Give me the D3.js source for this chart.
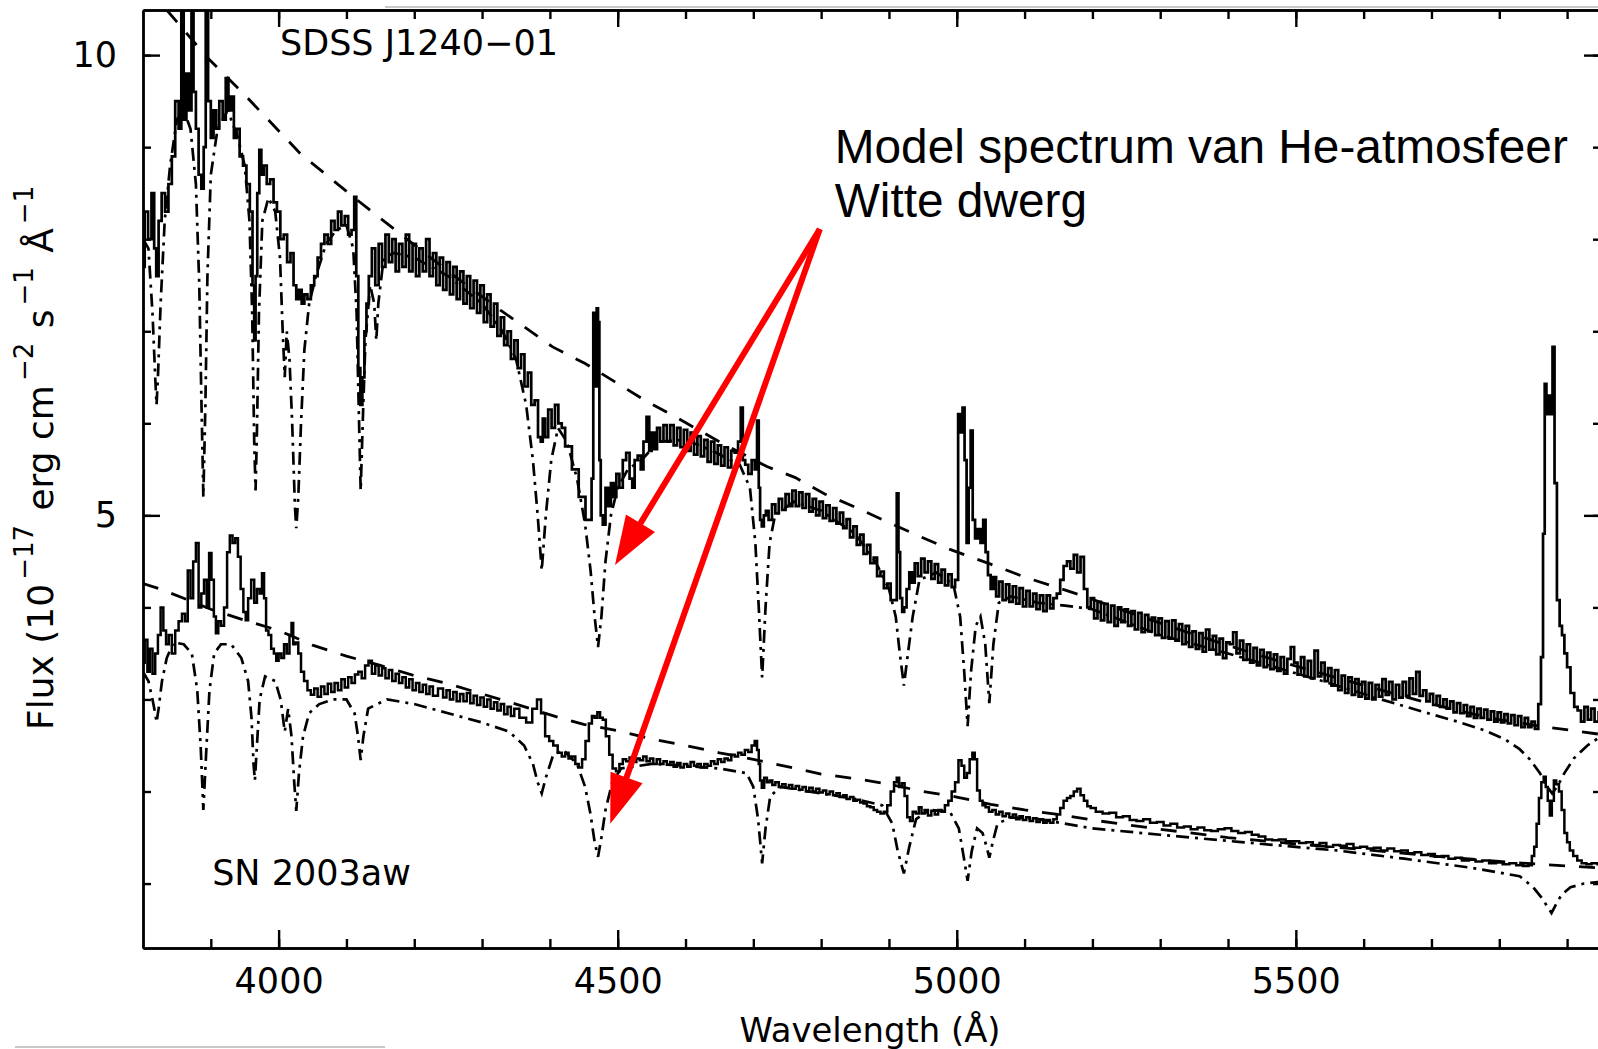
<!DOCTYPE html>
<html><head><meta charset="utf-8">
<script src="https://cdn.jsdelivr.net/npm/d3@7"></script>
<style>
html,body{margin:0;padding:0;background:#fff;overflow:hidden;}
svg{display:block;}
</style></head><body>
<svg id="chart" width="1598" height="1049"></svg>
<script>
// ---------------- data ----------------
const xDomain = [3800, 5950];
const yDomain = [0.3, 10.49];
const xMajorTicks = [4000, 4500, 5000, 5500];
const xMinorTicks = [3900, 4000, 4100, 4200, 4300, 4400, 4500, 4600, 4700, 4800, 4900, 5000, 5100, 5200, 5300, 5400, 5500, 5600, 5700, 5800, 5900];
const yMajorTicks = [5, 10];
const yMinorTicks = [1, 2, 3, 4, 5, 6, 7, 8, 9, 10];

// SDSS J1240-01 observed spectrum (solid)
const topObserved = [
[3800,7.7],[3805,8.3],[3810,8.0],[3815,8.5],[3818,7.9],[3821,7.6],[3825,8.2],[3830,8.5],[3835,8.3],[3840,8.6],[3845,8.9],[3850,9.5],[3855,9.2],[3858,10.8],[3862,9.3],[3866,9.8],[3870,9.4],[3873,10.9],[3876,9.6],[3880,9.2],[3884,8.7],[3888,8.55],[3891,9.0],[3894,10.8],[3898,9.5],[3902,9.1],[3906,9.4],[3910,9.2],[3915,9.5],[3920,9.3],[3924,9.75],[3928,9.4],[3932,9.55],[3936,9.1],[3940,9.2],[3945,8.9],[3950,8.8],[3955,8.6],[3960,8.3],[3963,7.5],[3965,6.9],[3967,7.6],[3970,8.5],[3973,8.97],[3976,8.7],[3980,8.8],[3985,8.6],[3990,8.65],[3995,8.4],[4000,8.3],[4005,8.0],[4010,8.05],[4015,7.75],[4020,7.85],[4024,7.5],[4028,7.35],[4032,7.45],[4036,7.3],[4040,7.4],[4045,7.35],[4050,7.5],[4055,7.6],[4060,7.8],[4065,7.95],[4070,8.05],[4075,7.95],[4080,8.2],[4085,8.1],[4090,8.3],[4095,8.15],[4100,8.25],[4105,8.05],[4110,8.1],[4113,8.46],[4116,7.6],[4119,6.6],[4122,6.2],[4125,6.5],[4128,7.0],[4131,7.3],[4135,7.6],[4140,7.9],[4145,7.5],[4150,7.95],[4155,7.7],[4160,8.05],[4165,7.75],[4170,8.0],[4175,7.65],[4180,7.95],[4185,7.7],[4190,8.05],[4195,7.65],[4200,7.95],[4205,7.6],[4210,7.9],[4215,7.65],[4220,8.0],[4225,7.6],[4230,7.85],[4235,7.5],[4240,7.8],[4245,7.45],[4250,7.75],[4255,7.4],[4260,7.7],[4265,7.35],[4270,7.65],[4275,7.3],[4280,7.6],[4285,7.25],[4290,7.55],[4295,7.2],[4300,7.5],[4305,7.1],[4310,7.4],[4315,7.05],[4320,7.3],[4325,6.95],[4330,7.15],[4335,6.85],[4340,7.0],[4345,6.7],[4350,6.9],[4355,6.6],[4360,6.75],[4365,6.4],[4370,6.55],[4375,6.2],[4380,6.25],[4385,5.85],[4388,5.8],[4391,6.05],[4395,5.85],[4400,6.15],[4405,5.95],[4410,6.2],[4415,6.0],[4420,5.95],[4425,5.75],[4430,5.75],[4435,5.5],[4440,5.5],[4445,5.2],[4450,5.2],[4455,4.95],[4460,4.95],[4463,5.4],[4465,7.2],[4468,6.4],[4470,7.25],[4472,7.1],[4474,5.6],[4476,5.0],[4480,4.9],[4484,5.3],[4488,5.1],[4492,5.35],[4496,5.2],[4500,5.45],[4505,5.3],[4510,5.6],[4515,5.68],[4520,5.4],[4523,5.3],[4527,5.6],[4532,5.65],[4536,5.5],[4540,5.8],[4545,6.07],[4548,5.7],[4552,5.9],[4556,5.72],[4560,5.95],[4565,5.8],[4570,5.98],[4575,5.8],[4580,5.98],[4585,5.76],[4590,5.95],[4595,5.74],[4600,5.93],[4605,5.7],[4610,5.9],[4615,5.66],[4620,5.86],[4625,5.64],[4630,5.82],[4635,5.58],[4640,5.8],[4645,5.56],[4650,5.76],[4655,5.54],[4660,5.74],[4665,5.52],[4670,5.7],[4675,5.68],[4680,5.8],[4683,6.17],[4686,5.6],[4690,5.55],[4695,5.45],[4700,5.6],[4704,5.5],[4707,6.03],[4709,5.3],[4711,4.95],[4714,4.88],[4717,5.0],[4720,5.05],[4725,4.95],[4730,5.12],[4735,5.02],[4740,5.18],[4745,5.06],[4750,5.23],[4755,5.1],[4760,5.27],[4765,5.1],[4770,5.25],[4775,5.08],[4780,5.23],[4785,5.04],[4790,5.18],[4795,5.0],[4800,5.15],[4805,4.97],[4810,5.11],[4815,4.94],[4820,5.08],[4825,4.91],[4830,5.03],[4835,4.86],[4840,4.96],[4845,4.76],[4850,4.88],[4855,4.68],[4860,4.79],[4865,4.58],[4870,4.68],[4875,4.48],[4880,4.54],[4885,4.34],[4890,4.39],[4895,4.21],[4900,4.26],[4905,4.08],[4910,4.08],[4913,5.24],[4915,4.6],[4918,4.1],[4921,3.95],[4924,4.0],[4928,4.2],[4932,4.38],[4936,4.27],[4940,4.48],[4945,4.34],[4950,4.53],[4955,4.38],[4960,4.5],[4965,4.31],[4970,4.47],[4975,4.27],[4980,4.41],[4985,4.24],[4990,4.36],[4995,4.22],[5000,4.3],[5004,6.1],[5007,5.9],[5010,6.17],[5013,5.6],[5016,4.7],[5019,5.3],[5022,5.92],[5025,4.95],[5029,4.75],[5033,4.85],[5037,4.7],[5041,4.95],[5044,4.6],[5048,4.35],[5052,4.2],[5056,4.33],[5060,4.12],[5065,4.28],[5070,4.08],[5075,4.25],[5080,4.06],[5085,4.23],[5090,4.04],[5095,4.21],[5100,4.01],[5105,4.18],[5110,4.01],[5115,4.15],[5120,3.98],[5125,4.13],[5130,3.96],[5135,4.13],[5140,3.99],[5145,4.1],[5150,4.15],[5155,4.3],[5160,4.45],[5165,4.5],[5170,4.42],[5175,4.57],[5180,4.38],[5185,4.55],[5190,4.2],[5195,4.0],[5200,4.1],[5205,3.88],[5210,4.06],[5215,3.86],[5220,4.04],[5225,3.84],[5230,4.02],[5235,3.8],[5240,4.0],[5245,3.84],[5250,3.98],[5255,3.8],[5260,3.96],[5265,3.76],[5270,3.94],[5275,3.73],[5280,3.92],[5285,3.74],[5290,3.89],[5295,3.7],[5300,3.88],[5305,3.67],[5310,3.85],[5315,3.66],[5320,3.86],[5325,3.64],[5330,3.82],[5335,3.6],[5340,3.8],[5345,3.57],[5350,3.74],[5355,3.55],[5360,3.72],[5365,3.52],[5370,3.76],[5375,3.54],[5380,3.69],[5385,3.49],[5390,3.66],[5395,3.45],[5400,3.62],[5405,3.6],[5410,3.73],[5415,3.5],[5420,3.64],[5425,3.43],[5430,3.6],[5435,3.4],[5440,3.56],[5445,3.37],[5450,3.54],[5455,3.35],[5460,3.51],[5465,3.33],[5470,3.49],[5475,3.31],[5480,3.46],[5485,3.28],[5490,3.44],[5495,3.57],[5500,3.4],[5505,3.27],[5510,3.46],[5515,3.25],[5520,3.42],[5525,3.23],[5530,3.53],[5535,3.25],[5540,3.4],[5545,3.2],[5550,3.34],[5555,3.15],[5560,3.32],[5565,3.1],[5570,3.26],[5575,3.07],[5580,3.24],[5585,3.05],[5590,3.22],[5595,3.03],[5600,3.19],[5605,3.01],[5610,3.18],[5615,3.0],[5620,3.16],[5625,3.03],[5630,3.22],[5635,3.05],[5640,3.19],[5645,3.0],[5650,3.16],[5655,3.02],[5660,3.19],[5665,3.04],[5670,3.23],[5675,3.06],[5680,3.3],[5685,3.04],[5690,3.1],[5695,2.98],[5700,3.06],[5705,2.94],[5710,3.04],[5715,2.92],[5720,3.0],[5725,2.9],[5730,2.98],[5735,2.86],[5740,2.96],[5745,2.85],[5750,2.94],[5755,2.82],[5760,2.92],[5765,2.8],[5770,2.9],[5775,2.8],[5780,2.89],[5785,2.78],[5790,2.87],[5795,2.76],[5800,2.86],[5805,2.75],[5810,2.84],[5815,2.74],[5820,2.83],[5825,2.72],[5830,2.82],[5835,2.7],[5840,2.8],[5845,2.7],[5850,2.76],[5855,2.68],[5860,2.95],[5863,3.46],[5866,4.8],[5868,6.43],[5871,6.1],[5874,6.3],[5877,6.1],[5880,6.83],[5883,5.35],[5887,4.08],[5891,3.8],[5894,3.7],[5898,3.5],[5902,3.35],[5908,3.07],[5913,2.92],[5918,2.88],[5923,2.76],[5928,2.92],[5933,2.78],[5938,2.9],[5943,2.76],[5950,2.86]
];

// He-atmosphere model for SDSS J1240-01 (dash-dot)
const topModel = [
[3800,8.0],[3808,7.9],[3814,7.2],[3818,6.5],[3820,6.2],[3822,6.5],[3826,7.3],[3832,8.2],[3840,8.8],[3850,9.3],[3860,9.4],[3870,9.2],[3878,8.6],[3883,7.5],[3886,6.3],[3889,5.2],[3892,6.2],[3895,7.6],[3900,8.7],[3910,9.2],[3925,9.4],[3940,9.1],[3950,8.8],[3957,8.2],[3961,7.2],[3964,5.8],[3966,5.27],[3968,5.9],[3971,7.2],[3976,8.2],[3985,8.45],[3995,8.3],[4002,7.8],[4006,7.0],[4009,6.5],[4012,7.0],[4016,6.7],[4020,6.0],[4024,5.1],[4026,4.86],[4029,5.2],[4033,6.0],[4038,6.8],[4045,7.3],[4055,7.6],[4070,7.95],[4085,8.1],[4100,8.15],[4110,7.9],[4115,7.2],[4118,6.2],[4121,5.27],[4124,6.0],[4128,6.9],[4135,7.5],[4141,7.3],[4144,6.9],[4147,7.3],[4155,7.8],[4170,7.85],[4200,7.8],[4250,7.6],[4300,7.3],[4330,7.0],[4350,6.7],[4365,6.2],[4375,5.6],[4382,5.0],[4388,4.4],[4394,5.0],[4402,5.6],[4412,5.95],[4425,5.8],[4440,5.4],[4452,4.9],[4460,4.4],[4466,3.9],[4471,3.57],[4476,3.9],[4482,4.5],[4490,5.0],[4500,5.3],[4515,5.5],[4535,5.6],[4560,5.8],[4600,5.82],[4640,5.7],[4680,5.55],[4695,5.3],[4703,4.7],[4708,4.0],[4713,3.24],[4718,4.0],[4724,4.7],[4732,5.0],[4760,5.15],[4800,5.05],[4850,4.8],[4880,4.5],[4900,4.2],[4910,3.9],[4916,3.5],[4922,3.15],[4928,3.5],[4935,3.9],[4945,4.3],[4970,4.38],[4995,4.25],[5005,3.9],[5011,3.3],[5016,2.71],[5021,3.3],[5028,3.8],[5035,3.9],[5042,3.6],[5048,2.96],[5054,3.6],[5062,4.05],[5080,4.12],[5120,4.05],[5160,4.02],[5200,3.98],[5300,3.7],[5400,3.5],[5437,3.42],[5539,3.2],[5617,3.02],[5686,2.87],[5738,2.76],[5780,2.66],[5810,2.56],[5830,2.46],[5845,2.35],[5860,2.2],[5870,2.06],[5878,1.98],[5886,2.06],[5896,2.2],[5910,2.36],[5930,2.5],[5950,2.6]
];

// continuum for SDSS J1240-01 (dashed)
const topContinuum = [
[3835,10.49],[3894,9.98],[3947,9.59],[4032,8.93],[4110,8.46],[4179,8.06],[4250,7.65],[4327,7.23],[4404,6.83],[4452,6.65],[4496,6.45],[4540,6.25],[4585,6.07],[4650,5.8],[4720,5.53],[4762,5.41],[4806,5.23],[4853,5.08],[4897,4.93],[4946,4.77],[4990,4.63],[5050,4.47],[5100,4.33],[5180,4.14],[5260,3.93],[5340,3.73],[5437,3.5],[5539,3.28],[5617,3.12],[5686,2.98],[5738,2.88],[5800,2.78],[5870,2.7],[5950,2.62]
];

// SN 2003aw observed spectrum (solid)
const bottomObserved = [
[3800,3.4],[3805,3.65],[3808,3.3],[3812,3.55],[3816,3.28],[3820,3.5],[3824,3.7],[3828,4.0],[3832,3.75],[3836,3.6],[3840,3.7],[3845,3.5],[3850,3.75],[3855,3.85],[3860,3.93],[3864,3.85],[3868,4.4],[3872,4.1],[3876,4.5],[3880,4.7],[3884,4.0],[3888,4.15],[3892,4.3],[3896,4.0],[3899,4.59],[3903,4.3],[3906,3.9],[3909,3.72],[3913,3.85],[3917,3.8],[3922,4.0],[3926,4.6],[3930,4.78],[3934,4.7],[3938,4.75],[3942,4.55],[3946,4.2],[3950,3.95],[3953,3.86],[3957,4.1],[3962,4.3],[3966,4.05],[3970,4.2],[3974,4.15],[3977,4.37],[3980,4.1],[3983,3.75],[3987,3.7],[3991,3.55],[3995,3.5],[3998,3.42],[4002,3.5],[4006,3.45],[4010,3.6],[4014,3.5],[4018,3.7],[4020,3.83],[4023,3.6],[4027,3.62],[4031,3.5],[4035,3.3],[4040,3.2],[4045,3.1],[4050,3.05],[4055,3.12],[4060,3.03],[4065,3.14],[4070,3.06],[4075,3.17],[4080,3.08],[4085,3.18],[4090,3.1],[4095,3.22],[4100,3.13],[4105,3.24],[4110,3.18],[4115,3.27],[4120,3.3],[4125,3.23],[4130,3.37],[4135,3.42],[4140,3.28],[4145,3.37],[4150,3.26],[4155,3.34],[4160,3.23],[4165,3.32],[4170,3.2],[4175,3.28],[4180,3.18],[4185,3.24],[4190,3.13],[4195,3.22],[4200,3.1],[4205,3.18],[4210,3.08],[4215,3.16],[4220,3.06],[4225,3.14],[4230,3.04],[4240,3.12],[4245,3.02],[4250,3.1],[4255,3.0],[4260,3.08],[4265,2.98],[4270,3.06],[4275,2.98],[4280,3.07],[4285,2.96],[4290,3.04],[4295,2.94],[4300,3.02],[4305,2.92],[4310,3.0],[4315,2.9],[4320,2.97],[4325,2.88],[4330,2.95],[4335,2.84],[4340,2.92],[4345,2.82],[4350,2.9],[4360,2.8],[4370,2.75],[4378,2.9],[4384,3.0],[4390,2.85],[4396,2.6],[4402,2.55],[4408,2.5],[4415,2.42],[4420,2.38],[4425,2.42],[4430,2.36],[4435,2.38],[4440,2.3],[4445,2.26],[4450,2.35],[4455,2.55],[4460,2.74],[4464,2.82],[4468,2.8],[4472,2.86],[4476,2.8],[4480,2.78],[4485,2.6],[4490,2.4],[4495,2.25],[4500,2.22],[4505,2.3],[4510,2.35],[4515,2.33],[4520,2.37],[4525,2.32],[4530,2.36],[4535,2.34],[4540,2.38],[4545,2.33],[4550,2.36],[4555,2.3],[4560,2.35],[4565,2.3],[4570,2.33],[4575,2.29],[4580,2.32],[4585,2.27],[4590,2.31],[4595,2.26],[4600,2.3],[4605,2.27],[4610,2.32],[4615,2.28],[4620,2.3],[4625,2.26],[4630,2.3],[4635,2.28],[4640,2.33],[4645,2.3],[4650,2.35],[4655,2.32],[4660,2.36],[4665,2.34],[4670,2.4],[4675,2.38],[4680,2.42],[4685,2.4],[4690,2.45],[4695,2.43],[4700,2.5],[4704,2.55],[4707,2.45],[4709,2.3],[4711,2.12],[4714,2.04],[4718,2.15],[4722,2.1],[4726,2.12],[4730,2.07],[4735,2.1],[4740,2.05],[4745,2.08],[4750,2.04],[4755,2.07],[4760,2.03],[4765,2.06],[4770,2.02],[4775,2.05],[4780,2.0],[4785,2.04],[4790,2.0],[4795,2.03],[4800,1.99],[4805,2.01],[4810,1.97],[4815,2.0],[4820,1.96],[4825,1.98],[4830,1.94],[4835,1.96],[4840,1.92],[4845,1.94],[4850,1.9],[4855,1.91],[4860,1.88],[4865,1.87],[4870,1.84],[4875,1.83],[4880,1.8],[4885,1.78],[4890,1.76],[4895,1.78],[4900,1.85],[4905,2.0],[4910,2.1],[4913,2.15],[4917,2.05],[4921,2.09],[4925,1.95],[4929,1.72],[4933,1.68],[4937,1.78],[4942,1.76],[4946,1.83],[4950,1.76],[4955,1.8],[4960,1.74],[4965,1.79],[4970,1.75],[4975,1.8],[4980,1.78],[4985,1.85],[4990,1.9],[4995,2.0],[5000,2.1],[5005,2.34],[5009,2.28],[5013,2.15],[5017,2.2],[5021,2.35],[5025,2.42],[5028,2.35],[5032,2.01],[5036,1.9],[5040,1.85],[5045,1.83],[5050,1.78],[5055,1.8],[5060,1.75],[5065,1.78],[5070,1.73],[5075,1.76],[5080,1.72],[5085,1.75],[5090,1.7],[5095,1.73],[5100,1.69],[5105,1.72],[5110,1.68],[5115,1.71],[5120,1.67],[5125,1.7],[5130,1.66],[5135,1.69],[5140,1.66],[5145,1.7],[5150,1.75],[5155,1.82],[5160,1.9],[5165,1.93],[5170,1.95],[5175,2.0],[5180,2.03],[5185,1.96],[5190,1.9],[5195,1.84],[5200,1.82],[5210,1.78],[5220,1.76],[5230,1.77],[5240,1.72],[5250,1.73],[5260,1.69],[5270,1.68],[5280,1.7],[5290,1.66],[5300,1.67],[5310,1.63],[5320,1.65],[5330,1.61],[5340,1.62],[5350,1.59],[5360,1.61],[5370,1.58],[5380,1.57],[5390,1.59],[5400,1.6],[5410,1.57],[5420,1.55],[5430,1.56],[5440,1.53],[5450,1.51],[5460,1.48],[5470,1.47],[5480,1.48],[5490,1.46],[5500,1.46],[5510,1.44],[5520,1.45],[5530,1.42],[5540,1.44],[5550,1.4],[5560,1.42],[5570,1.41],[5580,1.43],[5590,1.39],[5600,1.4],[5610,1.38],[5620,1.39],[5630,1.36],[5640,1.38],[5650,1.35],[5660,1.36],[5670,1.33],[5680,1.34],[5690,1.31],[5700,1.32],[5710,1.29],[5720,1.3],[5730,1.27],[5740,1.28],[5750,1.25],[5760,1.26],[5770,1.24],[5780,1.25],[5790,1.22],[5800,1.23],[5810,1.21],[5820,1.22],[5830,1.2],[5840,1.19],[5846,1.2],[5850,1.3],[5853,1.4],[5857,1.65],[5860,1.93],[5864,2.1],[5867,2.16],[5870,2.05],[5873,1.9],[5876,1.74],[5879,1.9],[5882,2.12],[5886,2.08],[5890,2.0],[5894,1.8],[5898,1.55],[5902,1.45],[5906,1.36],[5912,1.3],[5918,1.25],[5925,1.22],[5932,1.21],[5940,1.22],[5950,1.21]
];

// He-atmosphere model for SN 2003aw (dash-dot)
const bottomModel = [
[3800,3.3],[3808,3.2],[3814,3.0],[3818,2.85],[3820,2.75],[3823,2.9],[3828,3.2],[3835,3.45],[3845,3.62],[3860,3.6],[3872,3.5],[3880,3.1],[3885,2.5],[3889,1.8],[3893,2.4],[3898,3.1],[3905,3.5],[3915,3.6],[3930,3.6],[3945,3.45],[3955,3.2],[3960,2.8],[3963,2.3],[3965,2.12],[3968,2.5],[3972,3.0],[3980,3.25],[3995,3.2],[4003,3.0],[4009,2.65],[4014,2.9],[4019,2.6],[4023,2.1],[4026,1.79],[4030,2.2],[4036,2.6],[4045,2.85],[4060,2.95],[4080,3.0],[4100,3.0],[4112,2.85],[4117,2.6],[4121,2.34],[4125,2.6],[4132,2.9],[4145,2.95],[4160,3.0],[4200,2.95],[4250,2.85],[4300,2.75],[4340,2.65],[4362,2.5],[4375,2.3],[4382,2.1],[4388,1.98],[4394,2.15],[4405,2.4],[4420,2.45],[4440,2.3],[4452,2.05],[4460,1.75],[4466,1.45],[4471,1.29],[4476,1.5],[4482,1.8],[4492,2.1],[4505,2.25],[4550,2.3],[4600,2.28],[4650,2.25],[4690,2.2],[4700,2.05],[4707,1.7],[4713,1.22],[4718,1.6],[4725,1.95],[4740,2.05],[4800,1.98],[4850,1.92],[4890,1.85],[4905,1.65],[4913,1.35],[4922,1.11],[4930,1.4],[4940,1.7],[4960,1.8],[4990,1.78],[5003,1.6],[5010,1.3],[5016,1.03],[5022,1.35],[5030,1.6],[5038,1.55],[5044,1.4],[5048,1.28],[5053,1.45],[5060,1.65],[5080,1.72],[5120,1.7],[5200,1.6],[5300,1.53],[5420,1.45],[5560,1.36],[5660,1.27],[5760,1.17],[5830,1.08],[5850,0.96],[5862,0.85],[5870,0.76],[5877,0.68],[5884,0.78],[5892,0.88],[5905,0.96],[5925,1.0],[5950,1.02]
];

// continuum for SN 2003aw (dashed)
const bottomContinuum = [
[3800,4.26],[3825,4.2],[3860,4.1],[3900,3.98],[3950,3.86],[4000,3.75],[4050,3.59],[4100,3.47],[4150,3.37],[4200,3.26],[4250,3.17],[4300,3.06],[4350,2.95],[4415,2.8],[4450,2.73],[4500,2.66],[4550,2.57],[4600,2.5],[4650,2.42],[4700,2.35],[4750,2.27],[4800,2.19],[4850,2.14],[4900,2.08],[4950,2.0],[5000,1.94],[5050,1.86],[5100,1.8],[5150,1.75],[5200,1.69],[5300,1.59],[5400,1.5],[5500,1.43],[5600,1.37],[5700,1.3],[5800,1.24],[5900,1.19],[5950,1.17]
];

// labels / annotation (positions given in data units)
const objectLabels = [
  {text: "SDSS J1240\u221201", wl: 4002, flux: 10.0},
  {text: "SN 2003aw", wl: 3902, flux: 0.98}
];
const noteLines = ["Model spectrum van He-atmosfeer", "Witte dwerg"];
const noteAnchor = {wl: 4820, flux: 8.83};
const arrowStart = {wl: 4798, flux: 8.11};
const arrowTips = [{wl: 4496, flux: 4.46}, {wl: 4489, flux: 1.65}];

// ---------------- drawing ----------------
const svg = d3.select("#chart");
const W = 1598, H = 1049;
svg.append("rect").attr("width", W).attr("height", H).attr("fill", "#fff");

const x = d3.scaleLinear().domain(xDomain).range([143, 1601]);
const y = d3.scaleLinear().domain(yDomain).range([948, 10]);

const FONT = "'DejaVu Sans', sans-serif";

// faint slide/scan remnants
svg.append("line").attr("x1", 385).attr("x2", W).attr("y1", 7).attr("y2", 7)
  .attr("stroke", "#c8c8c8").attr("stroke-width", 2);
svg.append("line").attr("x1", 15).attr("x2", 385).attr("y1", 1047).attr("y2", 1047)
  .attr("stroke", "#c8c8c8").attr("stroke-width", 2);

svg.append("clipPath").attr("id", "plotclip").append("rect")
  .attr("x", x.range()[0]).attr("y", y.range()[1])
  .attr("width", x.range()[1] - x.range()[0]).attr("height", y.range()[0] - y.range()[1]);

const plot = svg.append("g").attr("clip-path", "url(#plotclip)");

const smooth = d3.line().x(d => x(d[0])).y(d => y(d[1]));
const binned = d3.line().x(d => x(d[0])).y(d => y(d[1])).curve(d3.curveStep);

const DASH = "16,14";
const DASHDOT = "13,6,3,6";

function drawSeries(data, gen, dash, width) {
  plot.append("path").datum(data)
    .attr("d", gen)
    .attr("fill", "none")
    .attr("stroke", "#000")
    .attr("stroke-width", width)
    .attr("stroke-linejoin", "miter")
    .attr("stroke-dasharray", dash);
}
drawSeries(topContinuum, smooth, DASH, 2.8);
drawSeries(bottomContinuum, smooth, DASH, 2.8);
drawSeries(topModel, smooth, DASHDOT, 2.7);
drawSeries(bottomModel, smooth, DASHDOT, 2.7);
drawSeries(topObserved, binned, null, 2.7);
drawSeries(bottomObserved, binned, null, 2.5);

// ---------------- axes ----------------
function styleAxis(g) {
  g.selectAll("path.domain").attr("stroke", "#000").attr("stroke-width", 2.4);
  g.selectAll(".tick line").attr("stroke", "#000").attr("stroke-width", 2.4);
  g.selectAll(".tick text").attr("font-family", FONT).attr("font-size", 35).attr("fill", "#000");
}
const yB = y.range()[0], yT = y.range()[1], xL = x.range()[0], xR = x.range()[1];

// bottom
svg.append("g").attr("transform", `translate(0,${yB})`)
  .call(d3.axisBottom(x).tickValues(xMinorTicks).tickSizeInner(-9).tickSizeOuter(0).tickFormat(""))
  .call(styleAxis);
svg.append("g").attr("transform", `translate(0,${yB})`)
  .call(d3.axisBottom(x).tickValues(xMajorTicks).tickSizeInner(-18).tickSizeOuter(0).tickPadding(20).tickFormat(d3.format("d")))
  .call(styleAxis);
// top
svg.append("g").attr("transform", `translate(0,${yT})`)
  .call(d3.axisTop(x).tickValues(xMinorTicks).tickSizeInner(-9).tickSizeOuter(0).tickFormat(""))
  .call(styleAxis);
svg.append("g").attr("transform", `translate(0,${yT})`)
  .call(d3.axisTop(x).tickValues(xMajorTicks).tickSizeInner(-17).tickSizeOuter(0).tickFormat(""))
  .call(styleAxis);
// left
svg.append("g").attr("transform", `translate(${xL},0)`)
  .call(d3.axisLeft(y).tickValues(yMinorTicks).tickSizeInner(-8).tickSizeOuter(0).tickFormat(""))
  .call(styleAxis);
svg.append("g").attr("transform", `translate(${xL},0)`)
  .call(d3.axisLeft(y).tickValues(yMajorTicks).tickSizeInner(-17).tickSizeOuter(0).tickPadding(26).tickFormat(d3.format("d")))
  .call(styleAxis);
// right
svg.append("g").attr("transform", `translate(${xR},0)`)
  .call(d3.axisRight(y).tickValues(yMinorTicks).tickSizeInner(-8).tickSizeOuter(0).tickFormat(""))
  .call(styleAxis);
svg.append("g").attr("transform", `translate(${xR},0)`)
  .call(d3.axisRight(y).tickValues(yMajorTicks).tickSizeInner(-17).tickSizeOuter(0).tickFormat(""))
  .call(styleAxis);

// axis titles
svg.append("text")
  .attr("x", (xL + xR) / 2 - 2).attr("y", 1042)
  .attr("text-anchor", "middle")
  .attr("font-family", FONT).attr("font-size", 33)
  .attr("textLength", 261).attr("lengthAdjust", "spacingAndGlyphs")
  .text("Wavelength (\u00C5)");

const yt = svg.append("text")
  .attr("transform", "translate(53,730) rotate(-90)")
  .attr("font-family", FONT).attr("font-size", 36).attr("fill", "#000");
const ylabelParts = [
  {t: "Flux (10", sup: false}, {t: "\u221217", sup: true},
  {t: " erg cm", sup: false}, {t: "\u22122", sup: true},
  {t: " s", sup: false}, {t: "\u22121", sup: true},
  {t: " \u00C5", sup: false}, {t: "\u22121", sup: true}
];
let raised = false;
ylabelParts.forEach(p => {
  const ts = yt.append("tspan").text(p.t);
  if (p.sup) { ts.attr("dy", -20).attr("font-size", 26).attr("dx", 4); raised = true; }
  else if (raised) { ts.attr("dy", 20).attr("dx", 3); raised = false; }
});

// object labels
objectLabels.forEach(l => {
  svg.append("text").attr("x", x(l.wl)).attr("y", y(l.flux))
    .attr("font-family", FONT).attr("font-size", 35).attr("fill", "#000")
    .text(l.text);
});

// annotation text
const note = svg.append("text").attr("font-family", "'Liberation Sans', Arial, sans-serif")
  .attr("font-size", 47.8).attr("fill", "#000");
noteLines.forEach((t, i) => {
  note.append("tspan").attr("x", x(noteAnchor.wl)).attr("y", y(noteAnchor.flux) + i * 54).text(t);
});

// red arrows
const ann = svg.append("g");
const headLen = 49, headHalf = 17;
arrowTips.forEach(tip => {
  const sx = x(arrowStart.wl), sy = y(arrowStart.flux);
  const tx = x(tip.wl), ty = y(tip.flux);
  const dx = tx - sx, dy = ty - sy, len = Math.hypot(dx, dy);
  const ux = dx / len, uy = dy / len;
  const bx = tx - ux * headLen, by = ty - uy * headLen;
  ann.append("line").attr("x1", sx).attr("y1", sy).attr("x2", bx + ux * 4).attr("y2", by + uy * 4)
    .attr("stroke", "#ff0000").attr("stroke-width", 6);
  ann.append("polygon")
    .attr("points", [[tx, ty], [bx - uy * headHalf, by + ux * headHalf], [bx + uy * headHalf, by - ux * headHalf]].map(p => p.join(",")).join(" "))
    .attr("fill", "#ff0000");
});
</script>
</body></html>
